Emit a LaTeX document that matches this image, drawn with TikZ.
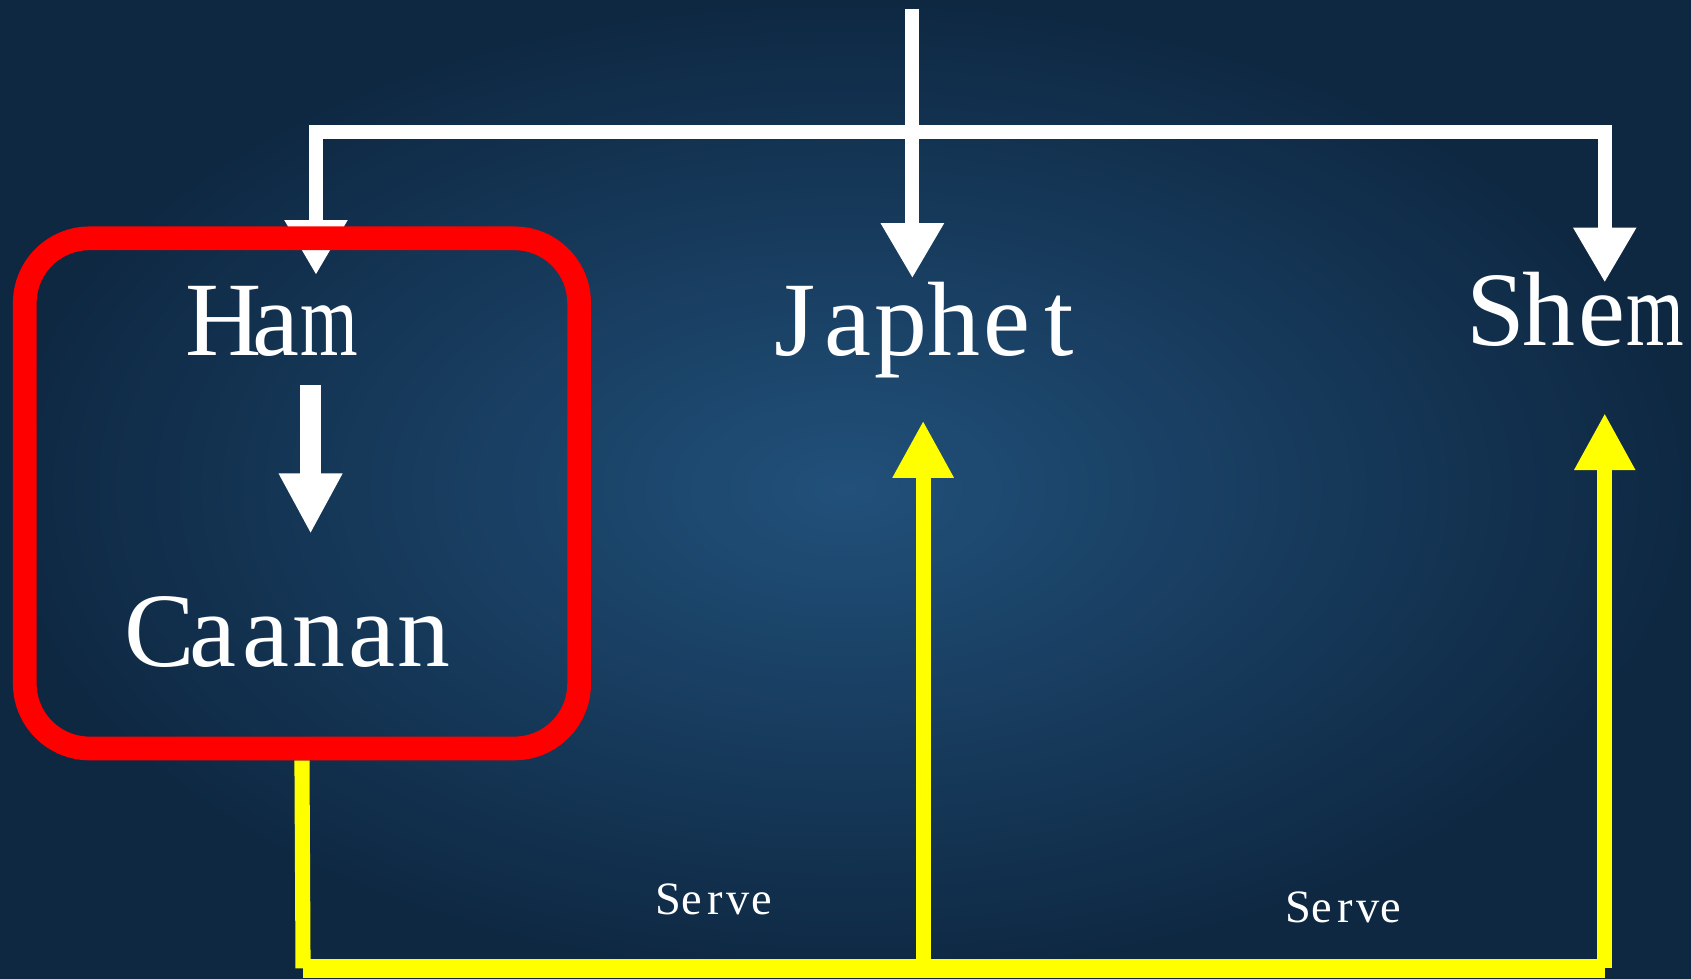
\documentclass[tikz,border=0pt]{standalone}
\usepackage{fontspec}
\setmainfont{Liberation Serif}
\usetikzlibrary{arrows.meta}
\pgfdeclarelayer{back}
\pgfdeclarelayer{conn}
\pgfsetlayers{back,conn,main}
\newcommand\gl[1]{\makebox[0.5em]{#1}}
\newcommand\glm{\makebox[0.5em]{\scalebox{0.7}[1]{m}}}
\definecolor{bgin}{HTML}{21507A}
\definecolor{bgout}{HTML}{0E2842}
\definecolor{yel}{HTML}{FFFF00}
\definecolor{redb}{HTML}{FF0000}
\begin{document}
\begin{tikzpicture}[x=1pt,y=-1pt,
  person/.style={text=white,font=\fontsize{98}{98}\selectfont,inner sep=0pt,anchor=base},
  small/.style={text=white,font=\fontsize{43}{43}\selectfont,inner sep=0pt,anchor=base},
  wline/.style={draw=white,line width=13pt},
  wtip/.style={-{Triangle[width=55pt,length=51pt]}},
  wthick/.style={draw=white,line width=19pt,-{Triangle[width=55pt,length=56pt]}},
  yline/.style={draw=yel,line width=14pt},
  ybar/.style={draw=yel,line width=18pt,line cap=square},
  ytip/.style={-{Triangle[width=53pt,length=53pt]}},
  redbox/.style={draw=redb,line width=22pt,rounded corners=60pt,inner sep=0pt,minimum width=514pt,minimum height=473pt}
]
\begin{pgfonlayer}{back}
\path[use as bounding box,inner color=bgin,outer color=bgout] (0,0) rectangle (1568,907);
\end{pgfonlayer}

% named nodes
\node[redbox] (box) at (280,457.5) {};
\node[person] (ham) at (256,330) {\gl{H}\gl{a}\glm};
\node[person] (japhet) at (860,330) {\gl{J}\gl{a}\gl{p}\gl{h}\gl{e}\gl{t}};
\node[person] (shem) at (1461,320) {\gl{S}\gl{h}\gl{e}\glm};
\node[person] (caanan) at (271,618) {\gl{C}\gl{a}\gl{a}\gl{n}\gl{a}\gl{n}};
\node[small] (serve1) at (663,848) {\gl{S}\gl{e}\gl{r}\gl{v}\gl{e}};
\node[small] (serve2) at (1247,855) {\gl{S}\gl{e}\gl{r}\gl{v}\gl{e}};

% coordinates
\coordinate (top) at (846,8);
\coordinate (jn) at (846,122);
\coordinate (hamIn) at (293,255);
\coordinate (japIn) at (846,258);
\coordinate (shemIn) at (1488,262);
\coordinate (hamOut) at (288,357);
\coordinate (caanIn) at (288,495);
\coordinate (ybl) at (281,898);
\coordinate (ybm) at (856,898);
\coordinate (ybr) at (1488,898);
\coordinate (japOut) at (856,390);
\coordinate (shemOut) at (1488,383);

\begin{pgfonlayer}{conn}
% yellow connectors
\draw[yline] (box.south) -- (ybl);
\draw[ybar] (ybl) -- (ybr);
\draw[yline,ytip] (ybm) -- (japOut);
\draw[yline,ytip] (ybr) -- (shemOut);
% white connectors
\draw[wline] (top) -- (jn);
\draw[wline,wtip,line join=miter] (jn) -| (hamIn);
\draw[wline,wtip,line join=miter] (jn) -| (shemIn);
\draw[wline,wtip] (jn) -- (japIn);
\draw[wthick] (hamOut) -- (caanIn);
\end{pgfonlayer}
\end{tikzpicture}
\end{document}
